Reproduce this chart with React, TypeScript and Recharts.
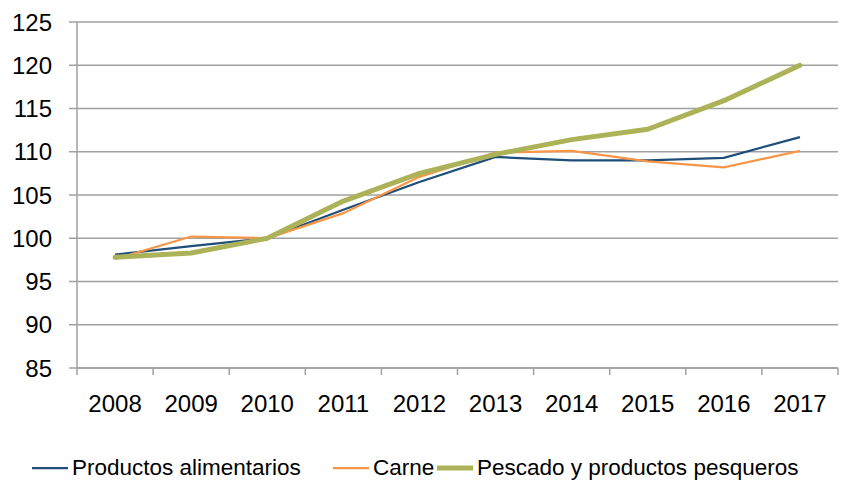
import React from 'react';
import { LineChart, Line, XAxis, YAxis, CartesianGrid, Legend } from 'recharts';

const years = ['2008', '2009', '2010', '2011', '2012', '2013', '2014', '2015', '2016', '2017'];
const productos = [98.1, 99.1, 100.0, 103.3, 106.5, 109.4, 109.0, 109.0, 109.3, 111.7];
const carne = [97.6, 100.2, 100.0, 102.9, 107.1, 109.9, 110.1, 108.9, 108.2, 110.1];
const pescado = [97.8, 98.3, 100.0, 104.3, 107.5, 109.7, 111.4, 112.6, 115.9, 120.0];
const yTicks = [85, 90, 95, 100, 105, 110, 115, 120, 125];

const seriesNames = ['Productos alimentarios', 'Carne', 'Pescado y productos pesqueros'];

const data = years.map((y, i) => ({
  year: y,
  productos: productos[i],
  carne: carne[i],
  pescado: pescado[i],
}));

const FONT = '"Liberation Sans", Arial, sans-serif';
const AXIS_GRAY = '#A0A0A0';
const BAND = (866 - 77 - 28) / 10;
const X_TICK_SIZE = 7;
const X_TICK_MARGIN = 20;
const legendLefts = [32, 333, 437];

const XTick = (props: any) => {
  const { x, y, payload, index } = props;
  const axisY = y - X_TICK_SIZE - X_TICK_MARGIN;
  return (
    <g>
      <line x1={x - BAND / 2} x2={x - BAND / 2} y1={axisY} y2={axisY + X_TICK_SIZE} stroke={AXIS_GRAY} strokeWidth={1.5} />
      {index === years.length - 1 && (
        <line x1={x + BAND / 2} x2={x + BAND / 2} y1={axisY} y2={axisY + X_TICK_SIZE} stroke={AXIS_GRAY} strokeWidth={1.5} />
      )}
      <text x={x} y={y} dy="0.71em" textAnchor="middle" fontSize={24} fill="#000" fontFamily={FONT}>
        {payload.value}
      </text>
    </g>
  );
};

const renderLegend = (props: any) => {
  const { payload } = props;
  return (
    <div style={{ position: 'relative', width: 866, height: 26 }}>
      {(payload || []).map((entry: any) => {
        const i = seriesNames.indexOf(entry.value);
        return (
          <div
            key={entry.value}
            style={{
              position: 'absolute',
              left: legendLefts[i],
              top: 0,
              height: 26,
              display: 'flex',
              alignItems: 'center',
              whiteSpace: 'nowrap',
            }}
          >
            <svg width={36} height={10} style={{ marginRight: 4 }}>
              <line x1={0} x2={36} y1={5} y2={5} stroke={entry.color} strokeWidth={i === 2 ? 5 : 2.25} strokeLinecap={i === 2 ? 'round' : 'butt'} />
            </svg>
            <span style={{ fontFamily: FONT, fontSize: 22.5, color: '#000' }}>{entry.value}</span>
          </div>
        );
      })}
    </div>
  );
};

export default function App() {
  return (
    <div style={{ position: 'absolute', left: 0, top: 0 }}>
      <LineChart width={866} height={481} data={data} margin={{ top: 22, right: 28, bottom: 0, left: 0 }}>
        <CartesianGrid vertical={false} stroke={AXIS_GRAY} strokeWidth={1.5} />
        <XAxis
          dataKey="year"
          padding={{ left: BAND / 2, right: BAND / 2 }}
          interval={0}
          height={87}
          tickLine={false}
          tickSize={X_TICK_SIZE}
          tickMargin={X_TICK_MARGIN}
          tick={<XTick />}
          axisLine={{ stroke: AXIS_GRAY, strokeWidth: 1.5 }}
        />
        <YAxis
          domain={[85, 125]}
          ticks={yTicks}
          interval={0}
          width={77}
          tickSize={8}
          tickMargin={17}
          tickLine={{ stroke: AXIS_GRAY, strokeWidth: 1.5 }}
          axisLine={{ stroke: AXIS_GRAY, strokeWidth: 1.5 }}
          tick={{ fontSize: 24, fill: '#000', fontFamily: FONT }}
        />
        <Legend verticalAlign="bottom" content={renderLegend} />
        <Line type="linear" dataKey="productos" name={seriesNames[0]} stroke="#1F4E79" strokeWidth={2.25} dot={false} isAnimationActive={false} />
        <Line type="linear" dataKey="carne" name={seriesNames[1]} stroke="#F79646" strokeWidth={2.25} dot={false} isAnimationActive={false} />
        <Line type="linear" dataKey="pescado" name={seriesNames[2]} stroke="#ABB257" strokeWidth={5} strokeLinecap="round" strokeLinejoin="round" dot={false} isAnimationActive={false} />
      </LineChart>
    </div>
  );
}
